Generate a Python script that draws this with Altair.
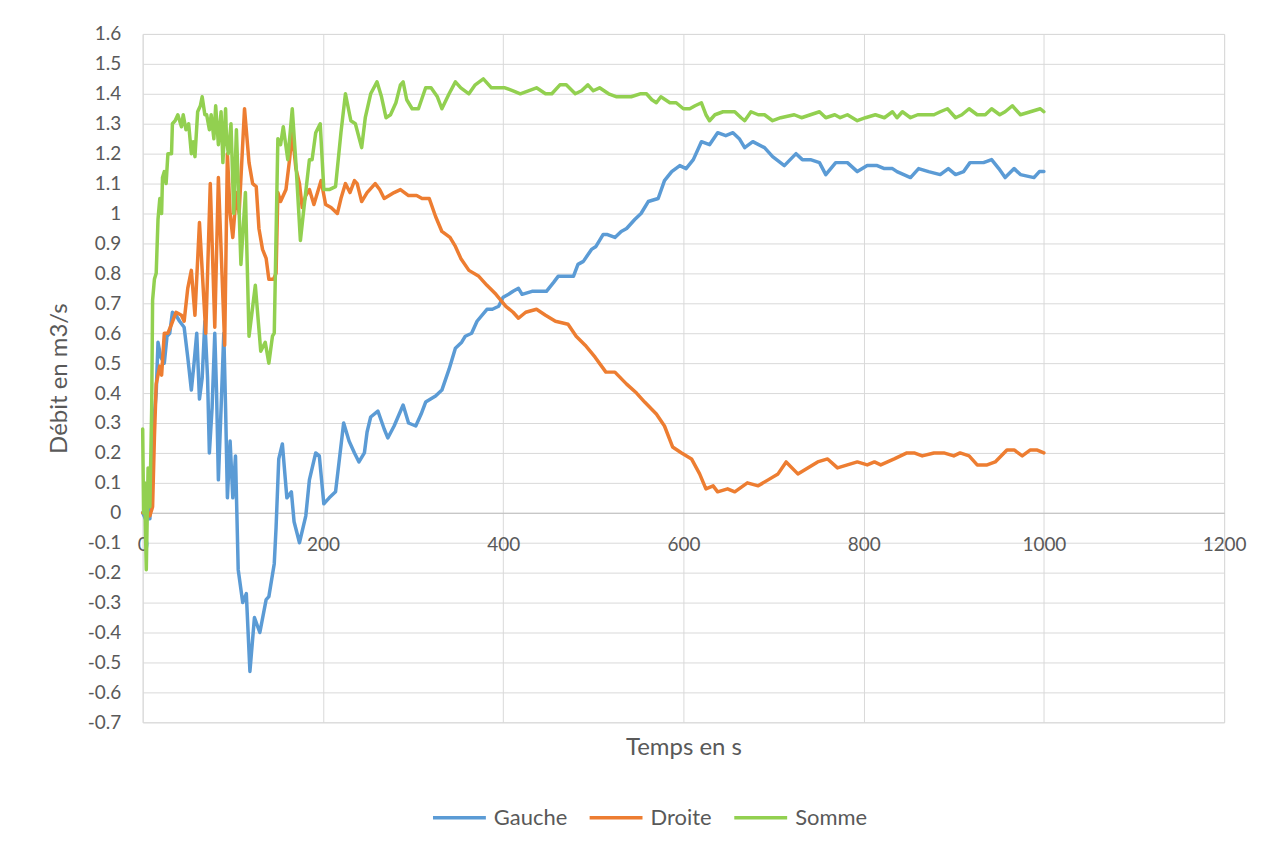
import altair as alt
import pandas as pd

# ---- data ----
gauche_t = [0, 3, 8, 11, 13, 15, 17, 20, 24, 27, 30, 33, 37, 41, 46, 50, 54, 57, 60, 63, 66, 69, 72, 74, 77, 80,
            82, 84, 87, 90, 92, 94, 97, 100, 103, 106, 111, 115, 119, 124, 130, 137, 140, 146, 148, 151, 155, 160,
            165, 168, 174, 181, 185, 192, 196, 201, 207, 214, 223, 229, 235, 240, 246, 249, 253, 261, 268, 272,
            279, 289, 295, 303, 309, 314, 325, 332, 340, 347, 354, 358, 365, 371, 382, 388, 395, 400, 406, 411,
            417, 421, 432, 448, 456, 461, 469, 478, 483, 489, 498, 503, 511, 515, 524, 531, 537, 546, 553, 561,
            572, 579, 587, 596, 603, 611, 620, 629, 638, 647, 655, 662, 668, 677, 690, 699, 712, 725, 732, 741,
            751, 758, 769, 782, 793, 804, 815, 823, 832, 837, 852, 861, 872, 885, 894, 902, 911, 918, 933, 942,
            950, 957, 967, 974, 989, 995, 1000]
gauche_v = [0.0, -0.02, -0.02, 0.20, 0.33, 0.40, 0.57, 0.52, 0.50, 0.59, 0.60, 0.67, 0.66, 0.64, 0.62, 0.52, 0.41,
            0.50, 0.60, 0.38, 0.45, 0.64, 0.45, 0.20, 0.35, 0.60, 0.40, 0.11, 0.35, 0.60, 0.35, 0.05, 0.24, 0.05,
            0.19, -0.19, -0.30, -0.27, -0.53, -0.35, -0.40, -0.29, -0.28, -0.17, -0.05, 0.18, 0.23, 0.05, 0.07,
            -0.03, -0.10, -0.01, 0.11, 0.20, 0.19, 0.03, 0.05, 0.07, 0.30, 0.24, 0.20, 0.17, 0.20, 0.27, 0.32,
            0.34, 0.28, 0.25, 0.29, 0.36, 0.30, 0.29, 0.33, 0.37, 0.39, 0.41, 0.48, 0.55, 0.57, 0.59, 0.60, 0.64,
            0.68, 0.68, 0.69, 0.72, 0.73, 0.74, 0.75, 0.73, 0.74, 0.74, 0.77, 0.79, 0.79, 0.79, 0.83, 0.84, 0.88,
            0.89, 0.93, 0.93, 0.92, 0.94, 0.95, 0.98, 1.00, 1.04, 1.05, 1.11, 1.14, 1.16, 1.15, 1.18, 1.24, 1.23,
            1.27, 1.26, 1.27, 1.25, 1.22, 1.24, 1.22, 1.19, 1.16, 1.20, 1.18, 1.18, 1.17, 1.13, 1.17, 1.17, 1.14,
            1.16, 1.16, 1.15, 1.15, 1.14, 1.12, 1.15, 1.14, 1.13, 1.15, 1.13, 1.14, 1.17, 1.17, 1.18, 1.15, 1.12,
            1.15, 1.13, 1.12, 1.14, 1.14]

droite_t = [0, 5, 8, 11, 13, 15, 19, 21, 24, 28, 32, 37, 43, 46, 50, 54, 58, 63, 70, 75, 80, 84, 91, 94, 97, 100,
            104, 107, 113, 118, 122, 126, 129, 133, 137, 140, 145, 148, 150, 153, 159, 163, 166, 170, 174, 177,
            181, 185, 190, 198, 203, 209, 216, 220, 225, 230, 235, 238, 243, 249, 258, 263, 268, 279, 286, 295,
            304, 310, 318, 325, 332, 341, 347, 353, 362, 373, 382, 392, 403, 411, 417, 425, 437, 447, 458, 472,
            481, 491, 502, 514, 524, 537, 548, 557, 570, 579, 588, 598, 609, 618, 625, 633, 638, 649, 657, 671,
            683, 694, 705, 714, 727, 738, 749, 760, 771, 782, 793, 804, 812, 819, 834, 848, 856, 865, 878, 889,
            900, 907, 917, 926, 937, 946, 959, 967, 976, 985, 992, 1000]
droite_v = [0.0, 0.0, -0.01, 0.02, 0.25, 0.43, 0.49, 0.46, 0.60, 0.60, 0.63, 0.67, 0.66, 0.64, 0.75, 0.81, 0.66,
            0.97, 0.60, 1.10, 0.62, 1.12, 0.56, 1.20, 1.00, 0.92, 1.07, 1.00, 1.35, 1.17, 1.10, 1.09, 0.95, 0.88,
            0.85, 0.78, 0.78, 0.80, 1.07, 1.04, 1.08, 1.18, 1.27, 1.15, 1.10, 1.02, 1.06, 1.08, 1.03, 1.11, 1.03,
            1.02, 1.00, 1.05, 1.10, 1.07, 1.11, 1.10, 1.04, 1.07, 1.10, 1.08, 1.05, 1.07, 1.08, 1.06, 1.06, 1.05,
            1.05, 0.99, 0.94, 0.92, 0.89, 0.85, 0.81, 0.79, 0.76, 0.73, 0.69, 0.67, 0.65, 0.67, 0.68, 0.66, 0.64,
            0.63, 0.59, 0.56, 0.52, 0.47, 0.47, 0.43, 0.40, 0.37, 0.33, 0.29, 0.22, 0.20, 0.18, 0.13, 0.08, 0.09,
            0.07, 0.08, 0.07, 0.10, 0.09, 0.11, 0.13, 0.17, 0.13, 0.15, 0.17, 0.18, 0.15, 0.16, 0.17, 0.16, 0.17,
            0.16, 0.18, 0.20, 0.20, 0.19, 0.20, 0.20, 0.19, 0.20, 0.19, 0.16, 0.16, 0.17, 0.21, 0.21, 0.19, 0.21,
            0.21, 0.20]

somme_t = [0, 1, 2, 4, 6, 8, 10, 11, 13, 15, 17, 19, 21, 22, 24, 26, 28, 32, 33, 36, 39, 43, 45, 48, 51, 54, 56,
           58, 61, 64, 66, 69, 71, 74, 76, 79, 81, 84, 87, 89, 92, 93, 95, 98, 101, 104, 109, 114, 118, 125, 131,
           136, 140, 144, 146, 150, 153, 156, 161, 166, 170, 175, 179, 185, 188, 192, 197, 201, 207, 214, 220,
           225, 231, 236, 243, 247, 253, 260, 265, 270, 275, 281, 286, 289, 293, 299, 306, 314, 320, 327, 332,
           340, 347, 353, 362, 369, 378, 387, 395, 402, 411, 419, 428, 437, 447, 454, 463, 470, 480, 487, 494,
           500, 507, 517, 526, 535, 542, 552, 559, 565, 570, 575, 585, 592, 600, 607, 613, 620, 625, 629, 635,
           644, 657, 664, 668, 675, 683, 690, 699, 708, 723, 731, 741, 751, 758, 768, 774, 782, 793, 802, 813,
           823, 832, 837, 843, 852, 860, 867, 878, 885, 893, 896, 902, 909, 917, 926, 935, 942, 951, 957, 965,
           974, 985, 996, 1000]
somme_v = [0.28, 0.0, 0.10, -0.19, 0.15, 0.02, 0.35, 0.71, 0.78, 0.80, 0.98, 1.05, 1.00, 1.12, 1.14, 1.10, 1.20,
           1.20, 1.30, 1.31, 1.33, 1.29, 1.33, 1.28, 1.30, 1.20, 1.24, 1.19, 1.34, 1.36, 1.39, 1.33, 1.33, 1.28,
           1.33, 1.25, 1.36, 1.23, 1.34, 1.17, 1.35, 1.25, 1.20, 1.30, 1.00, 1.28, 0.83, 1.07, 0.59, 0.76, 0.54,
           0.57, 0.50, 0.59, 0.60, 1.25, 1.23, 1.29, 1.18, 1.35, 1.17, 0.91, 1.02, 1.18, 1.18, 1.27, 1.30, 1.08,
           1.08, 1.09, 1.27, 1.40, 1.31, 1.30, 1.22, 1.32, 1.40, 1.44, 1.39, 1.32, 1.33, 1.37, 1.43, 1.44, 1.38,
           1.35, 1.35, 1.42, 1.42, 1.39, 1.35, 1.40, 1.44, 1.42, 1.40, 1.43, 1.45, 1.42, 1.42, 1.42, 1.41, 1.40,
           1.41, 1.42, 1.40, 1.40, 1.43, 1.43, 1.40, 1.41, 1.43, 1.41, 1.42, 1.40, 1.39, 1.39, 1.39, 1.40, 1.40,
           1.38, 1.37, 1.39, 1.37, 1.37, 1.35, 1.35, 1.36, 1.37, 1.33, 1.31, 1.33, 1.34, 1.34, 1.32, 1.31, 1.34,
           1.33, 1.33, 1.31, 1.32, 1.33, 1.32, 1.33, 1.34, 1.32, 1.33, 1.32, 1.33, 1.31, 1.32, 1.33, 1.32, 1.34,
           1.32, 1.34, 1.32, 1.33, 1.33, 1.33, 1.34, 1.35, 1.34, 1.32, 1.33, 1.35, 1.33, 1.33, 1.35, 1.33, 1.34,
           1.36, 1.33, 1.34, 1.35, 1.34]

series_names = ["Gauche", "Droite", "Somme"]
series_colors = ["#5B9BD5", "#ED7D31", "#92D050"]
x_ticks = [0, 200, 400, 600, 800, 1000, 1200]
y_ticks = [-0.7, -0.6, -0.5, -0.4, -0.3, -0.2, -0.1, 0, 0.1, 0.2, 0.3, 0.4, 0.5, 0.6, 0.7, 0.8, 0.9, 1.0,
           1.1, 1.2, 1.3, 1.4, 1.5, 1.6]

frames = []
for name, ts, vs in zip(series_names, [gauche_t, droite_t, somme_t], [gauche_v, droite_v, somme_v]):
    frames.append(pd.DataFrame({"t": ts, "v": vs, "serie": name, "order": range(len(ts))}))
df = pd.concat(frames, ignore_index=True)

FONT = "Lato"
TXT = "#595959"
GRID = "#D9D9D9"

chart = alt.Chart(df).mark_line(strokeWidth=3.5, strokeJoin="round", strokeCap="round").encode(
    x=alt.X("t:Q",
            scale=alt.Scale(domain=[0, 1200], nice=False),
            axis=alt.Axis(values=x_ticks, format="d", title="Temps en s", grid=True, gridColor=GRID,
                          gridWidth=1, domain=True, domainColor="#BFBFBF", domainWidth=1, ticks=False,
                          labelFlush=False, labelOverlap=False,
                          labelFont=FONT, labelFontSize=19, labelColor=TXT, labelPadding=23,
                          offset=-210, titleFont=FONT, titleFontSize=24, titleColor=TXT,
                          titleFontWeight="normal", titleY=242, titleBaseline="alphabetic")),
    y=alt.Y("v:Q",
            scale=alt.Scale(domain=[-0.7, 1.6], nice=False, zero=False),
            axis=alt.Axis(values=y_ticks, title="Débit en m3/s", grid=True, gridColor=GRID, gridWidth=1,
                          domain=False, ticks=False, labelOverlap=False,
                          labelExpr="replace(format(datum.value, '.1~f'), '\u2212', '-')",
                          labelFont=FONT, labelFontSize=19, labelColor=TXT, labelPadding=22,
                          titleFont=FONT, titleFontSize=24, titleColor=TXT, titleFontWeight="normal",
                          titleX=-83, titleY=345, titleAngle=-90, titleBaseline="middle", titleAlign="center")),
    color=alt.Color("serie:N",
                    scale=alt.Scale(domain=series_names, range=series_colors),
                    legend=alt.Legend(title=None, orient="none", direction="horizontal",
                                      legendX=289, legendY=757,
                                      symbolType="stroke", symbolSize=2809, symbolStrokeWidth=3.5,
                                      labelFont=FONT, labelFontSize=22, labelColor=TXT,
                                      labelOffset=6, columnPadding=15)),
    order=alt.Order("order:Q"),
).properties(
    width=1084, height=690,
    autosize=alt.AutoSizeParams(type="none"),
    padding={"left": 135, "top": 25, "right": 50, "bottom": 122},
).configure_view(stroke=None).configure(background="white")

chart.save("out.html", embed_options={"renderer": "svg", "actions": False})
